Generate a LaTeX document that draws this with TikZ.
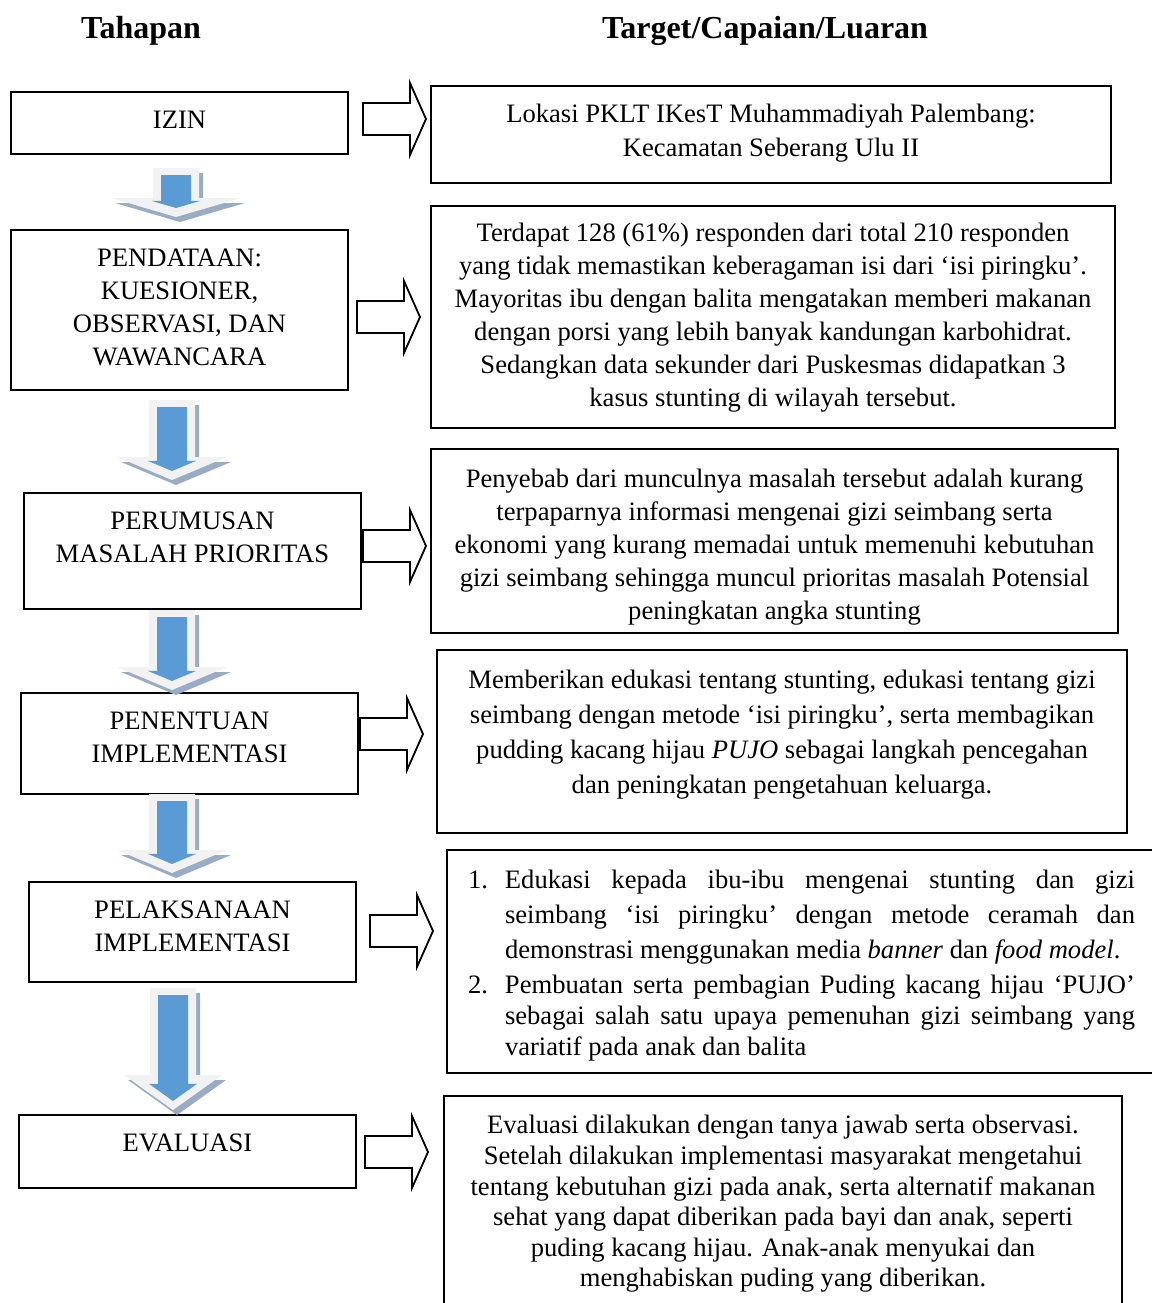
\documentclass[tikz,border=0pt]{standalone}
\usepackage{fontspec}
\setmainfont{Liberation Serif}
\usetikzlibrary{positioning}
\definecolor{stageblue}{RGB}{91,155,213}
\definecolor{facegray}{RGB}{242,242,242}
\definecolor{shadowblue}{RGB}{152,172,196}

\begin{document}
\begin{tikzpicture}[
    x=0.5pt, y=-0.5pt,
    stagebox/.style={rectangle, draw, line width=1pt, inner sep=0pt},
    stagetext/.style={align=center, inner sep=0pt, font=\fontsize{13.3}{16.5}\selectfont},
    heading/.style={font=\fontsize{16}{19}\selectfont\bfseries},
    blockarrow/.style={draw, line width=0.9pt, fill=white, line join=miter},
    pics/stageright/.style={code={
        \draw[blockarrow] (0,-16) -- (47,-16) -- (47,-36) -- (63,0) -- (47,36) -- (47,16) -- (0,16) -- cycle;
    }},
    pics/stagedown/.style n args={3}{code={
        \pgfmathsetmacro{\bluetip}{#2-9}
        \pgfmathsetmacro{\bluehead}{\bluetip-24*(#2-#1)/#3}
        \fill[shadowblue, shift={(4,5)}] (-23,0) -- (23,0) -- (23,#1) -- (#3,#1) -- (0,#2) -- (-#3,#1) -- (-23,#1) -- cycle;
        \fill[facegray] (-23,0) -- (23,0) -- (23,#1) -- (#3,#1) -- (0,#2) -- (-#3,#1) -- (-23,#1) -- cycle;
        \fill[stageblue] (-15,7) -- (15,7) -- (15,\bluehead) -- (24,\bluehead) -- (0,\bluetip) -- (-24,\bluehead) -- (-15,\bluehead) -- cycle;
    }}
]
\useasboundingbox (0,0) rectangle (1152,1303);

% Headings
\node[heading] (tahapan) at (141,31) {Tahapan};
\node[heading] (target) at (765,31) {Target/Capaian/Luaran};

% Stages
\node[stagebox, minimum width=168.5pt, minimum height=31pt,
    label={[stagetext, yshift=1.5pt]center:{IZIN}}] (izin) at (179.5,123) {};
\node[stagebox, minimum width=168.5pt, minimum height=80pt,
    label={[stagetext, yshift=1.25pt]center:{PENDATAAN:\\KUESIONER,\\OBSERVASI, DAN\\WAWANCARA}}] (pendataan) at (179.5,310) {};
\node[stagebox, minimum width=168.5pt, minimum height=58pt,
    label={[stagetext, yshift=6.75pt]center:{PERUMUSAN\\MASALAH PRIORITAS}}] (perumusan) at (192.5,551) {};
\node[stagebox, minimum width=168.5pt, minimum height=50.5pt,
    label={[stagetext, yshift=3pt]center:{PENENTUAN\\IMPLEMENTASI}}] (penentuan) at (189.5,743.5) {};
\node[stagebox, minimum width=163.5pt, minimum height=50pt,
    label={[stagetext, yshift=2.75pt]center:{PELAKSANAAN\\IMPLEMENTASI}}] (pelaksanaan) at (192.5,932) {};
\node[stagebox, minimum width=168.5pt, minimum height=36.5pt,
    label={[stagetext, yshift=4.25pt]center:{EVALUASI}}] (evaluasi) at (187.5,1151.5) {};

% Targets
\node[stagebox, minimum width=340pt, minimum height=48.5pt,
    label={[stagetext, font=\fontsize{13.3}{17}\selectfont, yshift=0.75pt]center:{Lokasi PKLT IKesT Muhammadiyah Palembang:\\Kecamatan Seberang Ulu II}}] (lokasi) at (771,134.5) {};
\node[stagebox, minimum width=342pt, minimum height=111pt,
    label={[stagetext, yshift=-0.5pt]center:{Terdapat 128 (61\%) responden dari total 210 responden\\yang tidak memastikan keberagaman isi dari ‘isi piringku’.\\Mayoritas ibu dengan balita mengatakan memberi makanan\\dengan porsi yang lebih banyak kandungan karbohidrat.\\Sedangkan data sekunder dari Puskesmas didapatkan 3\\kasus stunting di wilayah tersebut.}}] (temuan) at (773,317) {};
\node[stagebox, minimum width=343.5pt, minimum height=92pt,
    label={[stagetext, yshift=-3pt]center:{Penyebab dari munculnya masalah tersebut adalah kurang\\terpaparnya informasi mengenai gizi seimbang serta\\ekonomi yang kurang memadai untuk memenuhi kebutuhan\\gizi seimbang sehingga muncul prioritas masalah Potensial\\peningkatan angka stunting}}] (penyebab) at (774.5,541) {};
\node[stagebox, minimum width=345pt, minimum height=91.5pt,
    label={[stagetext, font=\fontsize{13.3}{17.5}\selectfont, yshift=3.5pt]center:{Memberikan edukasi tentang stunting, edukasi tentang gizi\\seimbang dengan metode ‘isi piringku’, serta membagikan\\pudding kacang hijau \textit{PUJO} sebagai langkah pencegahan\\dan peningkatan pengetahuan keluarga.}}] (rencana) at (782,741.5) {};
\node[stagebox, minimum width=354.5pt, minimum height=111.5pt, text width=333.5pt, align=justify,
    font=\fontsize{13.3}{17.5}\selectfont] (kegiatan) at (801.5,961.5) {%
    \hangindent=18.5pt \hangafter=1 \noindent\rule{0pt}{13.1pt}\makebox[18.5pt][l]{1.}Edukasi kepada ibu-ibu mengenai stunting dan gizi\linebreak seimbang ‘isi piringku’ dengan metode ceramah dan\linebreak demonstrasi menggunakan media \textit{banner} dan \textit{food model}.\par
    \vspace{2pt}
    \fontsize{13.3}{15.5}\selectfont
    \hangindent=18.5pt \hangafter=1 \noindent\makebox[18.5pt][l]{2.}Pembuatan serta pembagian Puding kacang hijau ‘PUJO’\linebreak sebagai salah satu upaya pemenuhan gizi seimbang yang\linebreak variatif pada anak dan balita\par};
\node[stagebox, minimum width=339pt, minimum height=105pt,
    label={[stagetext, font=\fontsize{13.3}{15.3}\selectfont, yshift=-1.5pt]center:{Evaluasi dilakukan dengan tanya jawab serta observasi.\\Setelah dilakukan implementasi masyarakat mengetahui\\tentang kebutuhan gizi pada anak, serta alternatif makanan\\sehat yang dapat diberikan pada bayi dan anak, seperti\\puding kacang hijau. Anak-anak menyukai dan\\menghabiskan puding yang diberikan.}}] (hasil) at (783,1201) {};

% Arrows to targets
\pic at (363,119) {stageright};
\pic at (357,317) {stageright};
\pic at (363,546) {stageright};
\pic at (360,734) {stageright};
\pic at (370,931) {stageright};
\pic at (365,1152) {stageright};

% Arrows between stages
\pic at (176,168) {stagedown={30}{49}{65}};
\pic at (172,400) {stagedown={57}{80}{55}};
\pic at (172,610) {stagedown={57}{80}{55}};
\pic at (172,794) {stagedown={56}{79}{55}};
\pic at (173,988) {stagedown={87}{122}{49}};

\end{tikzpicture}
\end{document}
